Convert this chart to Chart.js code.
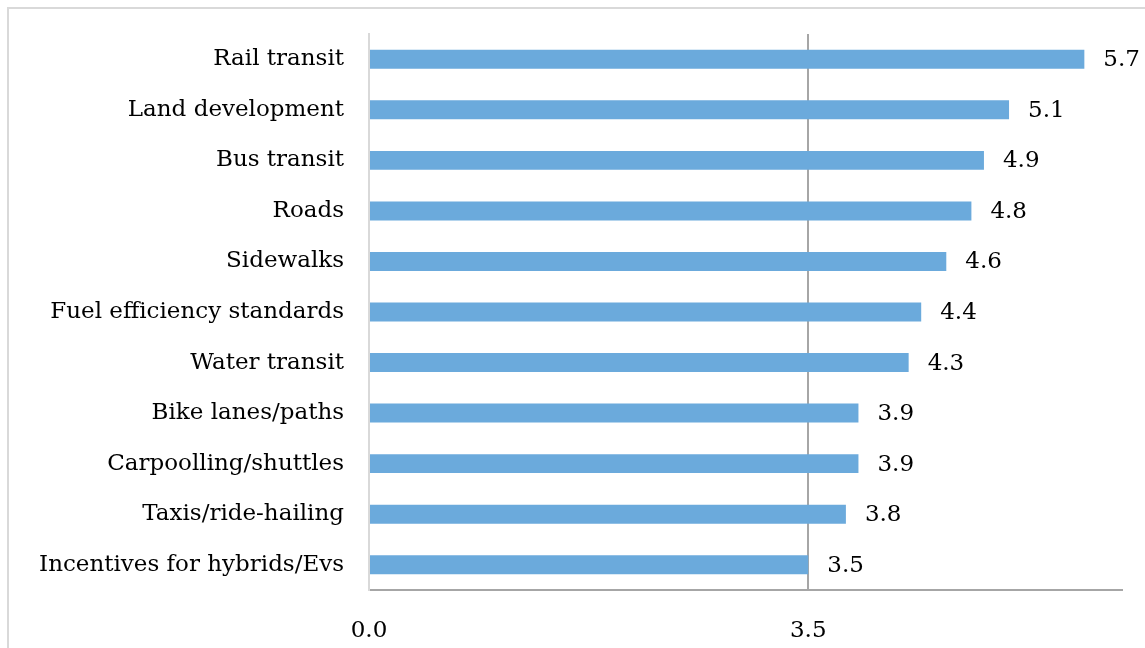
<!DOCTYPE html>
<html>
<head>
<meta charset="utf-8">
<script src="https://cdn.jsdelivr.net/npm/chart.js@4/dist/chart.umd.min.js"></script>
<style>
  html, body { margin: 0; padding: 0; background: #ffffff; }
  #wrap { width: 1145px; height: 648px; }
</style>
</head>
<body>
<div id="wrap"><canvas id="chart" width="1145" height="648"></canvas></div>
<script>
// Mean score per transport policy area
const categories = [
  'Rail transit',
  'Land development',
  'Bus transit',
  'Roads',
  'Sidewalks',
  'Fuel efficiency standards',
  'Water transit',
  'Bike lanes/paths',
  'Carpoolling/shuttles',
  'Taxis/ride-hailing',
  'Incentives for hybrids/Evs'
];
const scores = [5.7, 5.1, 4.9, 4.8, 4.6, 4.4, 4.3, 3.9, 3.9, 3.8, 3.5];
const xTickValues = [0, 3.5];
const xMin = 0;
const xMax = 6;

const FONT_FAMILY = '"DejaVu Serif", "Liberation Serif", serif';
const FONT_SIZE = 23;

// Light frame around the chart, open at the bottom-right edges
const framePlugin = {
  id: 'frame',
  beforeDraw(chart) {
    const ctx = chart.ctx;
    ctx.save();
    ctx.fillStyle = '#ffffff';
    ctx.fillRect(0, 0, chart.width, chart.height);
    ctx.strokeStyle = '#d9d9d9';
    ctx.lineWidth = 2;
    ctx.strokeRect(8, 8, chart.width + 20, chart.height + 20);
    ctx.restore();
  }
};

// Value printed to the right of each bar
const valueLabelPlugin = {
  id: 'valueLabels',
  afterDatasetsDraw(chart) {
    const ctx = chart.ctx;
    const meta = chart.getDatasetMeta(0);
    const values = chart.data.datasets[0].data;
    ctx.save();
    ctx.font = FONT_SIZE + 'px ' + FONT_FAMILY;
    ctx.fillStyle = '#000000';
    ctx.textAlign = 'left';
    ctx.textBaseline = 'middle';
    meta.data.forEach((bar, i) => {
      ctx.fillText(values[i].toFixed(1), bar.x + 19, bar.y + 1);
    });
    ctx.restore();
  }
};

new Chart(document.getElementById('chart'), {
  type: 'bar',
  data: {
    labels: categories,
    datasets: [{
      data: scores,
      backgroundColor: '#6baadc',
      borderWidth: 0,
      categoryPercentage: 1.0,
      barPercentage: 0.375
    }]
  },
  plugins: [framePlugin, valueLabelPlugin],
  options: {
    indexAxis: 'y',
    responsive: false,
    animation: false,
    devicePixelRatio: 1,
    layout: { padding: { top: 34, right: 23, left: 0, bottom: 0 } },
    plugins: {
      legend: { display: false },
      tooltip: { enabled: false }
    },
    scales: {
      x: {
        min: xMin,
        max: xMax,
        afterBuildTicks(scale) {
          scale.ticks = xTickValues.map(v => ({ value: v }));
        },
        afterFit(scale) {
          scale.height = 58;
          scale.paddingLeft = 0;
          scale.paddingRight = 0;
        },
        grid: {
          drawTicks: false,
          color(ctx) {
            return ctx.tick && ctx.tick.value === 0 ? '#d9d9d9' : '#a6a6a6';
          },
          lineWidth: 2
        },
        border: { display: true, color: '#a6a6a6', width: 2 },
        ticks: {
          padding: 27,
          color: '#000000',
          font: { family: FONT_FAMILY, size: FONT_SIZE },
          callback(value) { return Number(value).toFixed(1); }
        }
      },
      y: {
        afterFit(scale) {
          scale.width = 369;
          scale.paddingTop = 0;
          scale.paddingBottom = 0;
        },
        grid: { display: false, drawTicks: false },
        border: { display: true, color: '#d9d9d9', width: 2 },
        ticks: {
          padding: 25,
          color: '#000000',
          font: { family: FONT_FAMILY, size: FONT_SIZE }
        }
      }
    }
  }
});
</script>
</body>
</html>
